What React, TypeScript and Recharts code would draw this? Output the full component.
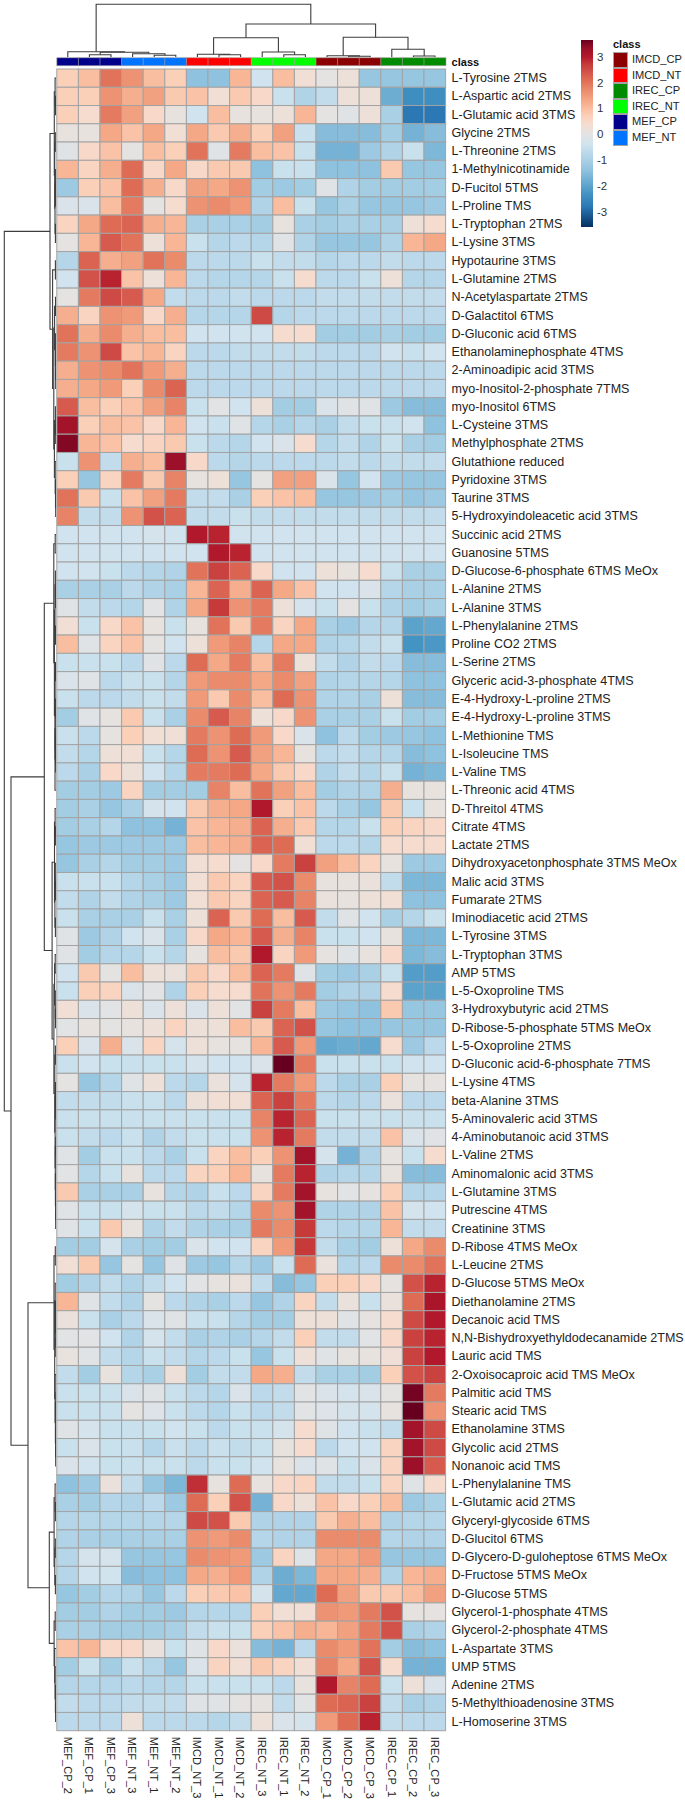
import { Bar, BarChart, Cell, Scatter, ScatterChart, XAxis, YAxis } from 'recharts'

const COLUMNS = ['MEF_CP_2', 'MEF_CP_1', 'MEF_CP_3', 'MEF_NT_3', 'MEF_NT_1', 'MEF_NT_2', 'IMCD_NT_3', 'IMCD_NT_1', 'IMCD_NT_2', 'IREC_NT_3', 'IREC_NT_1', 'IREC_NT_2', 'IMCD_CP_1', 'IMCD_CP_2', 'IMCD_CP_3', 'IREC_CP_1', 'IREC_CP_2', 'IREC_CP_3']

const ROW_LABELS = [
  'L-Tyrosine 2TMS', 'L-Aspartic acid 2TMS', 'L-Glutamic acid 3TMS', 'Glycine 2TMS', 'L-Threonine 2TMS', '1-Methylnicotinamide', 'D-Fucitol 5TMS', 'L-Proline TMS', 'L-Tryptophan 2TMS', 'L-Lysine 3TMS',
  'Hypotaurine 3TMS', 'L-Glutamine 2TMS', 'N-Acetylaspartate 2TMS', 'D-Galactitol 6TMS', 'D-Gluconic acid 6TMS', 'Ethanolaminephosphate 4TMS', '2-Aminoadipic acid 3TMS', 'myo-Inositol-2-phosphate 7TMS', 'myo-Inositol 6TMS', 'L-Cysteine 3TMS',
  'Methylphosphate 2TMS', 'Glutathione reduced', 'Pyridoxine 3TMS', 'Taurine 3TMS', '5-Hydroxyindoleacetic acid 3TMS', 'Succinic acid 2TMS', 'Guanosine 5TMS', 'D-Glucose-6-phosphate 6TMS MeOx', 'L-Alanine 2TMS', 'L-Alanine 3TMS',
  'L-Phenylalanine 2TMS', 'Proline CO2 2TMS', 'L-Serine 2TMS', 'Glyceric acid-3-phosphate 4TMS', 'E-4-Hydroxy-L-proline 2TMS', 'E-4-Hydroxy-L-proline 3TMS', 'L-Methionine TMS', 'L-Isoleucine TMS', 'L-Valine TMS', 'L-Threonic acid 4TMS',
  'D-Threitol 4TMS', 'Citrate 4TMS', 'Lactate 2TMS', 'Dihydroxyacetonphosphate 3TMS MeOx', 'Malic acid 3TMS', 'Fumarate 2TMS', 'Iminodiacetic acid 2TMS', 'L-Tyrosine 3TMS', 'L-Tryptophan 3TMS', 'AMP 5TMS',
  'L-5-Oxoproline TMS', '3-Hydroxybutyric acid 2TMS', 'D-Ribose-5-phosphate 5TMS MeOx', 'L-5-Oxoproline 2TMS', 'D-Gluconic acid-6-phosphate 7TMS', 'L-Lysine 4TMS', 'beta-Alanine 3TMS', '5-Aminovaleric acid 3TMS', '4-Aminobutanoic acid 3TMS', 'L-Valine 2TMS',
  'Aminomalonic acid 3TMS', 'L-Glutamine 3TMS', 'Putrescine 4TMS', 'Creatinine 3TMS', 'D-Ribose 4TMS MeOx', 'L-Leucine 2TMS', 'D-Glucose 5TMS MeOx', 'Diethanolamine 2TMS', 'Decanoic acid TMS', 'N,N-Bishydroxyethyldodecanamide 2TMS',
  'Lauric acid TMS', '2-Oxoisocaproic acid TMS MeOx', 'Palmitic acid TMS', 'Stearic acid TMS', 'Ethanolamine 3TMS', 'Glycolic acid 2TMS', 'Nonanoic acid TMS', 'L-Phenylalanine TMS', 'L-Glutamic acid 2TMS', 'Glyceryl-glycoside 6TMS',
  'D-Glucitol 6TMS', 'D-Glycero-D-guloheptose 6TMS MeOx', 'D-Fructose 5TMS MeOx', 'D-Glucose 5TMS', 'Glycerol-1-phosphate 4TMS', 'Glycerol-2-phosphate 4TMS', 'L-Aspartate 3TMS', 'UMP 5TMS', 'Adenine 2TMS', '5-Methylthioadenosine 3TMS',
  'L-Homoserine 3TMS',
]

// one row per metabolite, same order as COLUMNS
const VALUES = [
  [.7, 1, 2, 1.6, 1, .7, -1.4, -1.4, 1.1, -.4, 1, .3, 0, .2, -1.3, -1.3, -1.3, -1.3],
  [.7, .7, 1.6, 1.2, 1.4, .8, .9, .3, .8, .5, -.5, -.9, -.6, .2, .2, -1.8, -2.4, -2.4],
  [.7, .4, 1.9, 1.4, .5, .1, -.4, 1, .1, .1, .2, 1.1, 0, -.1, .2, -1, -2.8, -2.8],
  [.1, .1, 1.3, .9, 1.3, .3, 1.3, .8, 1.2, .7, 1.4, -.5, -1.5, -1.5, -1.5, -1.1, -1.7, -1.5],
  [-.1, .5, .9, 0, 1, .7, 2, -.1, 1.9, 1, .9, -.5, -1.7, -1.7, -1.2, -.9, -.5, -1.6],
  [1.1, .6, 1.2, 2.1, .5, 1.3, .5, .8, .8, -1.4, -.5, -.5, -1.4, -1.4, -1.4, .8, -1.3, -1.3],
  [-1.2, .7, .9, 2.1, 1.2, .5, 1.4, 1.3, 1.6, -1.1, -1.2, -1.1, -.1, -.9, -1.1, -1.1, -1.1, -1.1],
  [-.2, -.2, 1, 1.9, 0, .4, 1.6, 1.7, 1.5, -.9, 1, -.5, -1.3, -1, -1.3, -1.3, -1.3, -1.2],
  [.6, 1.3, 2.1, 2.2, 1.2, 1.1, -1, -1, -1, -1.1, .1, -1, -1.1, -1, -1, -1, .2, .4],
  [0, 1.1, 2.3, 2, .2, 1.1, -.5, -.8, -.7, -.8, -.1, -.9, -1.3, -1.3, -1.3, -.9, 1.1, 1.3],
  [-.8, 2.2, 1.2, 1.4, 2, 1.7, -.7, -.7, -.7, -.5, -.6, -.6, -.8, -.7, -.7, -.6, -.7, -.7],
  [-.4, 2.4, 2.9, .9, .2, 1.1, -.7, -.8, -.8, -.8, -.5, .4, -.7, -.7, -.5, .2, -.8, -.8],
  [0, 1.9, 2.5, 2.3, 1.3, -.6, -.7, -.7, -.6, -.7, -.7, -.7, -.6, -.6, -.6, -.6, -.6, -.6],
  [1.2, .6, 1.6, 1.5, .5, 1.2, -.8, -.8, -.8, 2.5, -.8, -.7, -.7, -.7, -.7, -.7, -.7, -.7],
  [2, 1.2, 1.7, 1.2, 1, 1, -.4, -.4, -.4, -.4, .4, .4, -1.1, -1.1, -1.1, -1, -1.1, -1.1],
  [1.9, 1.6, 2.5, .9, 1.1, .6, -.7, -.7, -.6, -.6, -.6, -.6, -.7, -.7, -.7, -.4, -.5, -.4],
  [1.2, 1.6, 1.7, 2, 1.5, 1.2, -.7, -.7, -.7, -.7, -.7, -.7, -.7, -.7, -.7, -.7, -.7, -.7],
  [1.2, 1.3, 1.5, .7, 1.7, 2.2, -.7, -.7, -.7, -.7, -.7, -.7, -.7, -.7, -.7, -.7, -.7, -.7],
  [2.3, 1, .7, .9, 1.4, 1.8, -.5, -.05, -.4, .2, -1.1, -1.1, -.2, -.1, -.1, -1.2, -1.5, -1.5],
  [3.2, .7, 1, .9, .5, 1.1, -.4, -.5, -.1, -.8, -1, -.8, -1, -.6, -.5, -.5, -.4, -1.4],
  [3.5, 1.1, .9, .4, .6, .8, -.5, -.7, -.8, -.4, -.2, .4, -.8, -.6, -.9, -.5, -1, -1.1],
  [-.5, 1.6, -.6, 1.2, 1, 3.3, .5, -.7, -.8, -.7, -.7, -.7, -.7, -.6, -.7, -.6, -.6, -.6],
  [.7, -1.3, .6, 1.9, .8, 1.8, .1, .2, -1.3, 0, 1.4, 1.4, -.2, -1.3, -.4, -1.2, -1.3, -1.3],
  [2, .8, -.5, .9, 1.4, 1.9, -.6, -.6, -1, .7, .9, 1, -1.3, -1.3, -1.2, -1.1, -1.3, -1.2],
  [1.8, -.6, -.6, 1.6, 2.4, 2.2, -.6, -.6, -.5, -.6, -.6, -.6, -.6, -.6, -.6, -.6, -.6, -.6],
  [-.4, -.4, -.4, -.4, -.3, -.4, 3, 2.9, -.4, -.4, -.4, -.4, -.4, -.4, -.4, -.4, -.4, -.4],
  [-.4, -.4, -.4, -.4, -.4, -.4, -.4, 3, 2.9, -.4, -.4, -.4, -.4, -.4, -.4, -.4, -.4, -.4],
  [-.4, -.4, -.5, -.7, -.8, -.9, 2, 2.6, 2.2, .5, -.4, -.4, .2, .1, .4, -.5, -1, -1],
  [-1, -1, -1, -.7, -.9, -1, 1.1, 2.2, 1.2, 2.2, 1.3, .9, -.4, -.4, -.2, -.8, -1, -1],
  [-.1, -.6, -.7, -.8, -.05, -.9, 1.3, 2.7, 1.6, 1.9, .2, -.3, -.5, 0, -.5, -.9, -1.1, -1],
  [.3, -.5, .5, .9, .1, -.5, .1, 2, .8, 1.9, .6, 1.3, -1, -1.2, -.8, -.8, -2, -1.9],
  [1, -.1, .6, .9, 0, -.4, .2, 1.5, 1.8, -.8, 1.3, 1.3, -.9, -.8, -.6, -.5, -2.3, -2.2],
  [-.5, -.5, -.5, -.7, -.1, -.7, 2.1, 1.3, 1.9, 1, 1.9, .2, -.6, -.9, -.6, -.7, -1.5, -1.5],
  [-.2, -.1, -.7, -.5, -.5, -.8, 1.5, 1.7, 1.7, 1.3, 1.7, 1.4, -.9, -.8, -.8, -.8, -1.4, -1.4],
  [-.5, -.7, -.7, -.6, -.5, -.6, 1.5, .8, 1.7, 1, 2.1, 1.6, -.9, -.9, -1, .2, -1.5, -1.5],
  [-1.1, -.1, .05, .8, -.5, -1, 1.7, 2.3, 1.8, .2, .5, 1.6, -1, -1, -1, -.5, -1.1, -1.1],
  [-.5, -.7, .05, .7, .3, .25, 1.9, 1.6, 2.1, 1.5, .5, -.2, -1.4, -.7, -1.1, -1.2, -1.3, -1.4],
  [-.6, -.8, .2, .3, -.5, -.8, 2.1, 1.6, 2.3, 1.4, 1.1, .1, -.7, -.6, -.8, -.8, -1.5, -1.4],
  [-.7, -1, .5, .2, -.4, -.8, 1.9, 1.9, 2.1, 1.3, .8, .5, -.9, -.6, -.8, -.5, -1.7, -1.6],
  [-1.1, -1.1, -1.2, .6, -1.1, -1.1, -1.1, 1.8, 1, 2, 1.4, 1, -1.1, -.9, -.9, 1.2, .1, .1],
  [-1.1, -1, -1.3, -1, -.3, -.4, .8, 1.2, 1.3, 3, .7, .9, -.7, -1, -1.3, .8, -.5, .1],
  [-1.1, -1, -.8, -1.4, -1.4, -1.7, .9, 1.1, 1.2, 2.2, 1.2, .8, -.8, -.8, -.5, .7, .6, .5],
  [-1.3, -1.2, -1.2, -1.2, -1.2, -1.2, 1, 1.1, 1.2, 2.2, 2.1, .3, -.7, -.7, -.8, .4, .4, .4],
  [-1.3, -1, -.8, -1.1, -1.1, -1.2, .3, .4, 0, .5, 1.9, 2.6, 1.4, 1, .6, .1, -1.2, -1.2],
  [-.5, -.5, -.5, -.8, -1, -1.2, .3, .8, .6, 2.3, 2.4, 1.7, .1, .1, .15, -.6, -1.6, -1.6],
  [-.6, -.9, -.6, -.9, -1, -1.2, .3, .8, .6, 2.2, 2.3, 1.8, .15, .1, .2, .3, -1.4, -1.4],
  [-.5, -1, -1, -1, -.5, -1, .2, 2.2, .8, 2.1, 1, 2.3, -.6, -.1, -.4, -1, -.8, -.5],
  [-.1, -1.2, -.9, -.4, -.2, -1, .5, 1.3, 1.1, 2.3, 1.2, 1.8, -.5, -.5, -.4, .1, -1.6, -1.6],
  [-.1, -1.1, -.8, -.8, -.5, -.8, .05, 1, .8, 3, .6, 1.5, .05, -.1, .1, .5, -1.6, -1.5],
  [-.4, .8, 0, 1, .2, .15, .8, .5, 1, 2.2, 1.9, -.1, -1.1, -1.2, -1, -.5, -2.1, -2.1],
  [-.5, .7, .6, -.2, -.05, -.9, .7, .4, .4, 2, 1.6, 1.9, -1.1, -.9, -.9, .4, -2, -2],
  [.3, -.2, -.05, .2, -.2, .2, -.2, .2, -.05, 2.6, 1.9, 1, -1.2, -1.3, -1.4, .8, -1.3, -1.3],
  [-.05, .1, 0, .1, .2, .6, .2, .2, 1, .8, 2.2, 2.4, -1.3, -1.4, -1.4, -1.3, -1.3, -1.3],
  [.7, -.2, 1.2, -.2, .6, -.3, .2, .1, .05, 1.1, 2.3, 1.5, -1.9, -1.8, -1.9, .4, -1.2, -.7],
  [-.5, -.4, -.5, -.5, -.5, -.5, -.3, -.4, -.4, -.2, 3.7, 1.9, -.5, -.5, -.5, -.5, -.4, -.4],
  [0, -1.3, -.8, -.1, .2, -.7, -.8, .15, -.3, 2.9, 1.9, 1.5, -.7, -1, -1, .7, .05, .05],
  [-.6, -.6, -.6, -.5, -.5, -.7, .2, .3, .3, 2.2, 2.6, 1.9, -.7, -.8, -.7, .15, -.7, -.7],
  [-.5, -.5, -.5, -.5, -.5, -.5, -.5, -.5, -.5, 1.8, 2.9, 2.2, -.5, -.5, -.5, -.5, -.5, -.5],
  [-.5, -.6, -.7, -.5, -.9, -.6, -.5, -.5, -.5, 1.6, 2.9, 1.9, -.6, -.6, -.6, .9, -.2, -.1],
  [-.1, -1.1, -.5, -.5, -.7, -1, -.5, .6, 1, .7, 1.6, 3.2, -.3, -1.7, -.9, .05, -.5, .4],
  [-.05, -.8, -.5, .1, -.7, -.7, .6, .7, 1.1, .1, 1.9, 2.9, -.9, -.8, -.8, .1, -1.5, -1.5],
  [.8, -1, -1, -1, .1, -.8, -.9, -.5, -.7, .6, 1.9, 3.2, .1, -.05, .05, .7, -.8, -.8],
  [-.1, -.5, -.5, -.3, -.5, -.5, -.7, -.6, -.8, 1.7, 1.6, 3.2, -.9, -.9, -.9, .9, -.3, -.4],
  [-.1, -.5, .8, .1, -.9, -.6, -.9, -1, -1, 1.9, 1.7, 2.7, -.7, -.8, -.8, 1.1, -.6, -.6],
  [-1.1, -1.1, -.3, -1, -1.1, -1.1, -.2, -.4, -.4, .6, 1.5, 2.7, -.6, -1, -1.1, .2, 1.3, 1.7],
  [.3, .8, -1.3, 0, -1.3, -.1, -1.2, -1.3, -.8, -1.2, -.5, 2.1, .15, -.8, -.7, 1.7, 1.7, 2],
  [-1.1, -.9, -.6, -.9, -.6, -.4, -.05, .05, .15, -.6, -1.5, -1.3, .7, .7, .5, .05, 2.4, 2.9],
  [1.1, -.1, -.6, -.9, 0, -.7, -.9, -1, -.7, -1.3, -.9, .6, -.6, .15, -.5, .15, 2.1, 3.1],
  [.15, -.5, -1, -.7, -.2, -.1, -.5, -.5, -.8, -1.1, -1.1, .2, .2, -.1, .05, .4, 2.5, 3],
  [-.05, -.05, -.4, -.9, -.3, -.6, -1, -.9, -1, -.8, -.6, .7, -.6, -.6, -.05, .5, 2.6, 2.9],
  [.1, -.1, -.6, -.8, -.5, -.6, -.8, -.7, -.5, -1.3, -.5, .2, -.1, .05, .1, .25, 2.6, 3],
  [-.6, -1.1, .1, -.8, -1, .2, -1.1, -.6, -.6, 1.3, 1.2, -.6, -1, -1, -1.1, .7, 2.4, 2.6],
  [-.5, -.5, -.5, -.2, -.1, -.5, -.7, -.8, -.2, -.7, -.6, -.05, -.2, -.3, -.2, 0, 3.6, 1.9],
  [-.5, -.5, -.5, 0, -.15, -.5, -.7, -.8, -.5, -.7, -.6, -.05, -.15, -.3, -.3, .1, 3.75, 1.6],
  [-.1, -.3, -.5, -.5, -.5, -.4, -.5, -.7, -.5, -.5, -.3, .4, -.1, -.4, -.5, -.6, 3.2, 2.5],
  [-.5, -.2, -.5, -.5, -.8, -.5, -.7, -.5, -.6, -.5, .1, .4, -.7, -.4, -.4, .6, 3.2, 2.5],
  [-.2, -.4, -.5, -.5, -.5, -.5, -.7, -.5, -.5, -.4, .1, -.2, -.1, -.5, -.2, .6, 3.3, 2.3],
  [-1.4, -1.2, .15, -.6, -1.3, -1.6, 2.8, .1, 2.1, .1, .5, .6, -.6, -.6, -.5, .6, -.1, .4],
  [-1, -1.1, -.8, -.9, -.7, -1.2, 2.1, .7, 2.4, -1.7, .5, .2, .9, .5, .7, 1, -1.2, -1],
  [-.8, -.8, -.8, -.8, -.8, -.8, 2.5, 2.4, .8, -.9, -.9, -.9, .8, 1.2, 1, -.9, -.8, -.8],
  [-.9, -1, -1, -1, -1, -1, 1.6, 1.5, 1.7, -.8, -.9, -.9, 1.7, 1.7, 1.7, -.8, -.9, -.9],
  [-.8, -.3, -.3, -1.3, -1.3, -1.3, 1.7, 1.6, 1.5, -1.2, .6, -.1, 1.3, 1.3, 1.5, -1.3, -1.3, -1.3],
  [-.8, -.4, -.4, -1.5, -1.4, -1.4, 1.3, 1.2, 1.5, -.9, -1.8, -1.6, 1.3, 1.3, 1.2, -.9, 1.1, 1.2],
  [-1.3, -1.1, -.8, -.9, -1.3, -.7, .7, .8, .9, -.3, -1.9, -1.9, 2.1, 1.4, .8, .8, 1, 1.4],
  [-1.1, -1.1, -.9, -1.1, -1.1, -1.2, -.8, -.8, -.8, .7, .3, .3, 1.6, 1.5, 1.9, 2.4, .05, .05],
  [-1, -1, -1.1, -1.1, -1.1, -1, -.6, -.5, -.5, .7, .9, 1.2, 1.1, 1.4, 1.9, 2.4, -1, -.9],
  [.9, 1.1, .5, .5, .15, -.5, -.1, .5, .15, -1.5, -1.7, -.7, 1.7, 1.5, 2, -1.1, -1.5, -1.4],
  [-1.1, -.5, -1.1, -.5, -.8, -1.3, -.2, .6, .3, .8, .6, .3, 1.8, 1.3, 2.4, .4, -1.7, -1.7],
  [-.8, -.8, -.8, -.7, -.8, -.8, -.5, -.5, -.5, -.5, -.7, .1, 3, 1.8, 2.1, -.5, .2, -.2],
  [-.6, -.7, -.7, -.6, -.6, -.6, -.1, -.1, 0, .05, -.6, -.05, 2.1, 2.2, 2.6, -.6, -1, -.9],
  [-.7, -.7, -.7, .2, -.7, -.7, -.7, -.8, -.6, .2, -.2, -.3, 1.5, 2.1, 2.9, -.6, -.7, -.7],
]

// dendrograms as nested [height, left, right], a plain number is a column or row index
const COLUMN_TREE = [52.7,
  [5.3, 0, [4.7, [2.3, 1, 2], [3.3, 3, [1.7, 4, 5]]]],
  [33,
    [19.3, [2.7, 6, [2.3, 7, 8]], [5, 9, [2.3, 10, 11]]],
    [19.7, [1.3, 12, [.7, 13, 14]], [7.7, 15, [1, 16, 17]]],
  ],
]

const ROW_TREE = [51.7,
  [6,
    [1.7, [.9, 0, [.5, 1, 2]], [1.3, [.7, 3, 4], [1, [.6, 5, [.4, 6, 7]], [.6, 8, 9]]]],
    [3.4, [.6, 10, 11], [2.2,
      [1.4, [.5, 12, 13], [.6, 14, [.4, 15, [.3, 16, 17]]]],
      [1.6, [.6, 18, [.3, 19, 20]], [.8, 21, [.5, 22, [.3, 23, 24]]]],
    ]],
  ],
  [45,
    [11.7,
      [2.2, [.8, 25, 26], [1.6,
        [1, [.6, 27, [.4, 28, 29]], [.5, 30, 31]],
        [.9, [.5, 32, 33], [1, [.8, [.4, 34, 35], [.5, 36, [.3, 37, 38]]], 39]],
      ]],
      [3.9,
        [1.5, [.9, 40, [.6, 41, 42]], [1.1, [.7, 43, [.4, 44, 45]], [.6, 46, 47]]],
        [2.1, [1.4, [.8, 48, 49], [.7, 50, [.5, 51, 52]]], [1.2, [.6, 53, 54], [.9, [.5, 55, [.3, 56, 57]], [.7, [.3, 58, 59], [.6, 60, [.4, 61, [.3, 62, 63]]]]]]],
      ],
    ],
    [28,
      [2, [.7, 64, 65], [1.3, [.8, 66, [.5, 67, [.3, 68, [.2, 69, 70]]]], [.9, 71, [.6, [.1, 72, 73], [.4, 74, [.3, 75, 76]]]]]],
      [6.7,
        [1.9, [.9, 77, [.6, 78, 79]], [1.2, [.7, 80, 81], [.6, 82, 83]]],
        [1.9, [.8, 84, 85], [1.3, 86, [.9, 87, [.6, 88, [.4, 89, 90]]]]],
      ],
    ],
  ],
]

const CLASS_NAMES = ['IMCD_CP', 'IMCD_NT', 'IREC_CP', 'IREC_NT', 'MEF_CP', 'MEF_NT']
const CLASS_COLORS = ['#8b0000', '#ff0000', '#008b00', '#00ff00', '#00008b', '#0073ff']

const SCALE_VALUES = [-3.6, -2.8, -2.3, -1.4, -1, -.7, -.4, -.1, .1, .4, .7, 1, 1.3, 1.7, 2.1, 2.4, 2.7, 3, 3.3, 3.7]
const SCALE_COLORS = ['#053061', '#2b78b5', '#4393c3', '#8fc2de', '#aad0e5', '#bbd9ea', '#d0e3ef', '#dfe3e6', '#e8e2de', '#f6dccf', '#fbd0b9', '#f9bd9f', '#f5a886', '#ea8b6c', '#de6b54', '#d2524a', '#c63a3a', '#b2182b', '#9c1029', '#67001f']
const SCALE_TICKS = [-3, -2, -1, 0, 1, 2, 3]
const SCALE_MIN = -3.58
const SCALE_MAX = 3.64

const FONT = '"Liberation Sans", Arial, sans-serif'
const GRID = '#a3a3a3'
const LEFT = 56.8
const RIGHT_GAP = 239.4
const TOP = 69
const BOTTOM_GAP = 69.3
const CELL_W = (685 - LEFT - RIGHT_GAP) / COLUMNS.length
const CELL_H = (1800 - TOP - BOTTOM_GAP) / ROW_LABELS.length

const hexToRgb = (hex: string) => [1, 3, 5].map((i) => parseInt(hex.slice(i, i + 2), 16))

function heatColor(value: number) {
  const top = SCALE_VALUES.findIndex((v) => v >= value)
  if (top <= 0) return top === 0 ? SCALE_COLORS[0] : SCALE_COLORS[SCALE_COLORS.length - 1]
  const t = (value - SCALE_VALUES[top - 1]) / (SCALE_VALUES[top] - SCALE_VALUES[top - 1])
  const a = hexToRgb(SCALE_COLORS[top - 1])
  const b = hexToRgb(SCALE_COLORS[top])
  return `rgb(${a.map((c, i) => Math.round(c + (b[i] - c) * t)).join(',')})`
}

const heatCells = VALUES.flatMap((row, r) =>
  row.map((value, c) => ({ col: c + 0.5, row: r + 0.5, value })),
)

// turns a nested tree into one three-segment polyline per merge
function treeLinks(node: any, links: { pos: number; height: number }[][] = []) {
  const walk = (n: any): { pos: number; height: number } => {
    if (typeof n === 'number') return { pos: n + 0.5, height: 0 }
    const a = walk(n[1])
    const b = walk(n[2])
    links.push([a, { pos: a.pos, height: n[0] }, { pos: b.pos, height: n[0] }, b])
    return { pos: (a.pos + b.pos) / 2, height: n[0] }
  }
  walk(node)
  return links
}

const columnLinks = treeLinks(COLUMN_TREE)
const rowLinks = treeLinks(ROW_TREE)
const classBar = COLUMNS.map((name) => ({ name, size: 1, cls: name.slice(0, -2) }))
const scaleBar = [{ name: 'scale', range: [SCALE_MIN, SCALE_MAX] }]

const NoDot = () => <g />

const HeatCell = ({ cx, cy, payload }: any) => (
  <rect
    x={cx - CELL_W / 2}
    y={cy - CELL_H / 2}
    width={CELL_W}
    height={CELL_H}
    fill={heatColor(payload.value)}
    stroke={GRID}
    strokeWidth={1}
  />
)

const ColumnTick = ({ x, y, payload }: any) => (
  <text
    x={x}
    y={y}
    transform={`rotate(90 ${x} ${y})`}
    dominantBaseline="central"
    fontSize={11.1}
    fontFamily={FONT}
    fill="#222"
  >
    {COLUMNS[Math.floor(payload.value)]}
  </text>
)

const RowTick = ({ x, y, payload }: any) => (
  <text x={x} y={y} dominantBaseline="central" fontSize={12.5} fontFamily={FONT} fill="#222">
    {ROW_LABELS[Math.floor(payload.value)]}
  </text>
)

function abs(left: number, top: number): React.CSSProperties {
  return { position: 'absolute', left, top }
}

export default function App() {
  return (
    <div style={{ position: 'absolute', left: 0, top: 0, width: 685, height: 1800, background: '#fff', fontFamily: FONT }}>

      <div style={abs(LEFT, 0)}>
        <ScatterChart width={CELL_W * 18} height={57} margin={{ top: 0, right: 0, bottom: 0, left: 0 }}>
          <XAxis type="number" dataKey="pos" domain={[0, 18]} hide />
          <YAxis type="number" dataKey="height" domain={[0, 57]} hide />
          {columnLinks.map((link, i) => (
            <Scatter key={i} data={link} line={{ stroke: '#3d3d3d', strokeWidth: 1.1 }} shape={NoDot} isAnimationActive={false} />
          ))}
        </ScatterChart>
      </div>

      <div style={abs(0, TOP)}>
        <ScatterChart width={56} height={1800 - TOP - BOTTOM_GAP} margin={{ top: 0, right: 0, bottom: 0, left: 0 }}>
          <XAxis type="number" dataKey="height" domain={[0, 56]} reversed hide />
          <YAxis type="number" dataKey="pos" domain={[0, 91]} reversed hide />
          {rowLinks.map((link, i) => (
            <Scatter key={i} data={link} line={{ stroke: '#3d3d3d', strokeWidth: 1.1 }} shape={NoDot} isAnimationActive={false} />
          ))}
        </ScatterChart>
      </div>

      <div style={abs(0, 50)}>
        <BarChart width={685} height={24} data={classBar} barCategoryGap={0} margin={{ top: 7.7, right: 0, bottom: 8.3, left: LEFT }}>
          <XAxis dataKey="name" hide />
          <YAxis
            orientation="right"
            type="number"
            domain={[0, 1]}
            ticks={[0.5]}
            width={RIGHT_GAP}
            axisLine={false}
            tickLine={false}
            tickMargin={0}
            tickFormatter={() => 'class'}
            tick={{ fontSize: 11, fontWeight: 700, fill: '#111', fontFamily: FONT }}
          />
          <Bar dataKey="size" stroke={GRID} strokeWidth={0.6} isAnimationActive={false}>
            {classBar.map((c) => (
              <Cell key={c.name} fill={CLASS_COLORS[CLASS_NAMES.indexOf(c.cls)]} />
            ))}
          </Bar>
        </BarChart>
      </div>

      <div style={abs(0, 0)}>
        <ScatterChart width={685} height={1800} margin={{ top: TOP, right: 0, bottom: 0, left: LEFT }}>
          <XAxis
            type="number"
            dataKey="col"
            domain={[0, COLUMNS.length]}
            ticks={COLUMNS.map((_, i) => i + 0.5)}
            interval={0}
            height={BOTTOM_GAP}
            axisLine={false}
            tickLine={false}
            tickMargin={0}
            tick={<ColumnTick />}
          />
          <YAxis
            orientation="right"
            type="number"
            dataKey="row"
            domain={[0, ROW_LABELS.length]}
            reversed
            ticks={ROW_LABELS.map((_, i) => i + 0.5)}
            interval={0}
            width={RIGHT_GAP}
            axisLine={false}
            tickLine={false}
            tickMargin={0}
            tick={<RowTick />}
          />
          <Scatter data={heatCells} shape={<HeatCell />} isAnimationActive={false} />
        </ScatterChart>
      </div>

      <div style={abs(581, 30)}>
        <BarChart width={50} height={207} data={scaleBar} barCategoryGap={0} margin={{ top: 10, right: 0, bottom: 10, left: 0 }}>
          <defs>
            <linearGradient id="heatScale" x1="0" y1="0" x2="0" y2="1">
              {SCALE_VALUES.map((v, i) => (
                <stop key={v} offset={(SCALE_MAX - v) / (SCALE_MAX - SCALE_MIN)} stopColor={SCALE_COLORS[i]} />
              )).reverse()}
            </linearGradient>
          </defs>
          <XAxis dataKey="name" hide />
          <YAxis
            orientation="right"
            type="number"
            domain={[SCALE_MIN, SCALE_MAX]}
            ticks={SCALE_TICKS}
            interval={0}
            width={38}
            axisLine={false}
            tickLine={false}
            tickSize={4}
            tickMargin={0}
            tick={{ fontSize: 11.5, fill: '#333', fontFamily: FONT }}
          />
          <Bar dataKey="range" fill="url(#heatScale)" isAnimationActive={false} />
        </BarChart>
      </div>

      <div style={{ ...abs(613, 37), fontSize: 11, fontWeight: 700, lineHeight: '14px', color: '#111' }}>class</div>
      {CLASS_NAMES.map((name, i) => (
        <div key={name}>
          <div
            style={{
              ...abs(612.5, 52 + i * 15.6),
              width: 15.5,
              height: 15.6,
              boxSizing: 'border-box',
              background: CLASS_COLORS[i],
              border: `1px solid ${GRID}`,
            }}
          />
          <div style={{ ...abs(632, 52 + i * 15.6), fontSize: 11.1, lineHeight: '15.6px', color: '#222' }}>{name}</div>
        </div>
      ))}

    </div>
  )
}
